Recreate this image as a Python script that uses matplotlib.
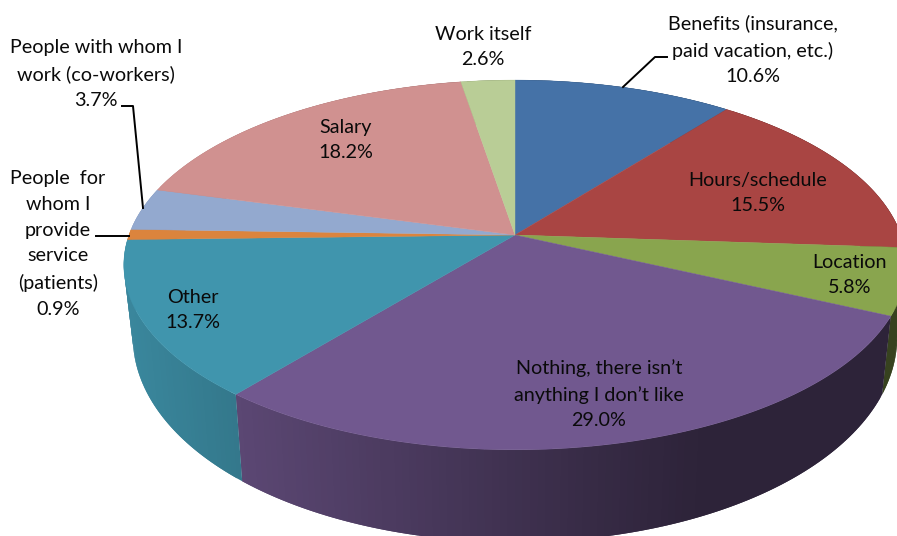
import numpy as np
import matplotlib
matplotlib.use("Agg")
import matplotlib.pyplot as plt
from matplotlib.patches import Polygon

labels = [
    "Benefits (insurance,\npaid vacation, etc.)",
    "Hours/schedule",
    "Location",
    "Nothing, there isn\u2019t\nanything I don\u2019t like",
    "Other",
    "People  for\nwhom I\nprovide\nservice\n(patients)",
    "People with whom I\nwork (co-workers)",
    "Salary",
    "Work itself",
]
values = [10.6, 15.5, 5.8, 29.0, 13.7, 0.9, 3.7, 18.2, 2.6]
colors = ["#4572A7", "#A94543", "#89A54E", "#71588F", "#4095AD",
          "#DB843D", "#93A9CF", "#D09190", "#B9CD96"]
label_pos = [(753, 50), (758, 193), (850, 275), (599, 394), (193, 310),
             (58, 244), (96, 74), (346, 140), (483, 47)]

# perspective of the tilted disc, fitted on the picture
CX, CY = 515, 235
A, B, K = 386, 180, 0.162

shade_x = [130, 243, 400, 600, 700, 890]
shade_f = [0.90, 0.80, 0.66, 0.48, 0.40, 0.40]


def top_edge(theta):
    u, v = np.sin(theta), np.cos(theta)
    w = 1 + K * v
    return CX + A * u / w, CY - B * v / w, w


def bottom_edge(theta):
    x, y, w = top_edge(theta)
    return CX + (x - CX) * 0.977, y + 68 + 150 * (1 - w)


def darker(color, f):
    return tuple(c * f for c in matplotlib.colors.to_rgb(color))


fig = plt.figure(figsize=(8.97, 5.36), dpi=100)
ax = fig.add_axes([0, 0, 1, 1])
ax.set_xlim(0, 897)
ax.set_ylim(536, 0)
ax.axis("off")

edges = np.cumsum([0] + values) / sum(values) * 2 * np.pi

# side wall first, the top surface covers whatever is behind
for i, color in enumerate(colors):
    steps = max(2, int((edges[i + 1] - edges[i]) * 60))
    th = np.linspace(edges[i], edges[i + 1], steps + 1)
    for n in range(steps):
        # each strip runs on under the next one so no seams show
        t = np.linspace(th[n], th[min(n + 2, steps)], 8)
        x, y, _ = top_edge(t)
        bx, by = bottom_edge(t)
        f = np.interp((top_edge(th[n])[0] + top_edge(th[n + 1])[0]) / 2, shade_x, shade_f)
        pts = list(zip(x, y)) + list(zip(bx[::-1], by[::-1]))
        ax.add_patch(Polygon(pts, closed=True, facecolor=darker(color, f), edgecolor="none"))

for i, color in enumerate(colors):
    th = np.linspace(edges[i], edges[i + 1], 120)
    x, y, _ = top_edge(th)
    pts = [(CX, CY)] + list(zip(x, y))
    ax.add_patch(Polygon(pts, closed=True, facecolor=color, edgecolor=color, linewidth=0.3))

for name, val, (lx, ly) in zip(labels, values, label_pos):
    ax.text(lx, ly, f"{name}\n{val:.1f}%", ha="center", va="center", family="Lato",
            fontsize=14.2, color="#0a0a0a", linespacing=1.62)

# leader lines
ax.plot([623, 655, 667], [87, 57, 57], color="black", lw=1.4)
ax.plot([122, 133, 143], [106, 106, 208], color="black", lw=1.4)
ax.plot([96, 129], [236, 236], color="black", lw=1.4)

fig.savefig("out.png", dpi=100)
